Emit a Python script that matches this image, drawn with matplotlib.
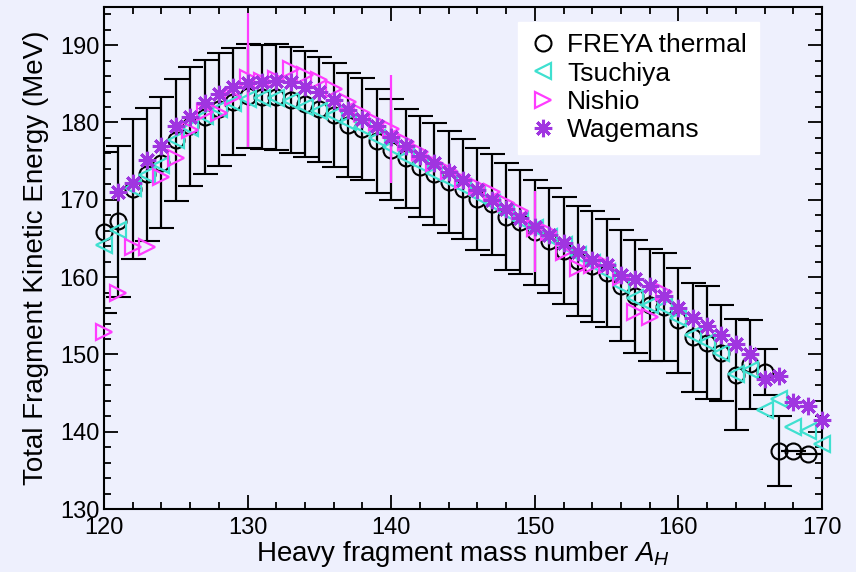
import matplotlib
matplotlib.use("Agg")
import matplotlib.pyplot as plt
from matplotlib.lines import Line2D
import numpy as np

plt.rcParams['font.family'] = ['Liberation Sans', 'DejaVu Sans']
plt.rcParams['mathtext.fontset'] = 'custom'
plt.rcParams['mathtext.rm'] = 'Liberation Sans'
plt.rcParams['mathtext.it'] = 'Liberation Sans:italic'

# FREYA thermal (with error bars)
freya_a = np.arange(120, 170)
freya_e = [165.8, 167.2, 171.4, 173.3, 174.8, 177.7, 179.5, 180.7, 181.7, 182.7,
           183.4, 183.3, 183.3, 182.9, 182.4, 181.7, 181.0, 179.7, 179.2, 177.6,
           176.5, 175.4, 174.3, 173.3, 172.3, 171.4, 170.1, 169.4, 167.8, 167.1,
           165.8, 164.7, 163.4, 162.1, 161.4, 160.5, 158.9, 157.5, 156.4, 156.1,
           154.4, 152.2, 151.5, 150.2, 147.4, 148.7, 147.7, 137.5, 137.5, 137.1]
freya_err = [10.4, 9.8, 9.0, 8.6, 8.5, 7.9, 7.7, 7.4, 7.3, 6.9,
             6.7, 6.7, 6.9, 6.8, 6.8, 6.8, 6.7, 6.7, 6.6, 6.7,
             6.5, 6.4, 6.5, 6.6, 6.6, 6.5, 6.6, 6.5, 6.9, 6.7,
             6.8, 6.8, 6.9, 7.1, 7.2, 7.0, 7.2, 7.3, 7.3, 7.0,
             6.8, 7.1, 7.3, 6.2, 7.2, 5.8, 3.0, 4.5, 0.0, 0.0]

# Tsuchiya
tsu_a = np.arange(120, 171)
tsu_e = [164.2, 166.1, 171.5, 173.2, 174.5, 177.7, 179.3, 180.8, 181.8, 182.5,
         183.0, 183.2, 183.2, 182.8, 182.0, 181.5, 181.0, 180.0, 179.4, 178.0,
         176.8, 175.6, 174.6, 173.5, 172.6, 171.6, 170.6, 169.6, 168.4, 167.4,
         166.3, 165.2, 164.2, 162.8, 161.8, 160.6, 159.0, 157.3, 156.4, 156.2,
         154.7, 152.5, 151.6, 150.2, 147.5, 148.0, 142.8, 144.2, 140.6, 140.1,
         138.4]

# Nishio
nis_a = np.arange(120, 160)
nis_e = [152.9, 157.9, 163.9, 163.9, 173.0, 175.4, 179.0, 181.4, 181.2, 183.3,
         185.8, 185.4, 185.6, 186.9, 186.2, 185.5, 184.3, 182.7, 181.2, 180.1,
         179.1, 177.5, 176.2, 174.8, 173.7, 172.6, 171.8, 171.0, 169.6, 168.5,
         166.4, 165.9, 163.3, 161.2, 161.6, 161.6, 160.0, 155.5, 154.9, 158.1]
nis_err_a = [130, 140, 150]
nis_err_e = [185.5, 179.2, 165.9]
nis_err = [8.7, 7.0, 5.2]

# Wagemans
wag_a = np.arange(121, 171)
wag_e = [171.0, 172.2, 175.2, 177.0, 179.5, 180.7, 182.5, 183.7, 184.6,
         185.1, 185.2, 185.4, 185.2, 184.6, 184.0, 182.9, 181.6, 180.5, 179.5,
         178.1, 176.9, 175.7, 174.8, 173.6, 172.6, 171.3, 170.0, 168.8, 167.7,
         166.5, 165.4, 164.4, 163.3, 162.2, 161.6, 160.3, 159.7, 158.8, 157.5,
         156.0, 154.7, 153.7, 152.5, 151.3, 150.1, 146.8, 147.2, 143.9, 143.3,
         141.5]

bg = '#eef0fd'
cyan = '#3fe0d0'
magenta = '#ff3cff'
purple = '#a035e0'
star = (8, 2, 0)

fig = plt.figure(figsize=(8.56, 5.72), dpi=100, facecolor=bg)
ax = fig.add_axes([0.1215, 0.110, 0.8388, 0.8786], facecolor=bg)

eb = ax.errorbar(freya_a, freya_e, yerr=freya_err, fmt='o', color='black', mfc='none',
                 mec='black', ms=11.5, mew=1.5, elinewidth=1.6, capsize=9, capthick=1.6,
                 zorder=2)
eb.lines[0].set_clip_on(False)
ax.plot(tsu_a, tsu_e, '<', color=cyan, mfc='none', mec=cyan, ms=11.5, mew=1.6,
        zorder=3, clip_on=False)
ax.errorbar(nis_err_a, nis_err_e, yerr=nis_err, fmt='none', ecolor=magenta,
            elinewidth=1.6, capsize=0, zorder=3)
ax.plot(nis_a, nis_e, '>', color=magenta, mfc='none', mec=magenta, ms=11.5, mew=1.6,
        zorder=4, clip_on=False)
ax.plot(wag_a, wag_e, ls='none', marker=star, color=purple, mec=purple,
        ms=12.5, mew=2.2, zorder=5, clip_on=False)

ax.set_xlim(120, 170)
ax.set_ylim(130, 195)
ax.set_xticks(np.arange(120, 171, 10))
ax.set_xticks(np.arange(120, 171, 2), minor=True)
ax.set_yticks(np.arange(130, 191, 10))
ax.set_yticks(np.arange(130, 195, 2), minor=True)
ax.tick_params(which='both', direction='in', top=True, right=True,
               labelsize=17, width=1.3)
ax.tick_params(which='major', length=10)
ax.tick_params(which='minor', length=5)
ax.tick_params(axis='x', pad=6)
for s in ax.spines.values():
    s.set_linewidth(1.5)

ax.set_xlabel(r'Heavy fragment mass number $A_H$', fontsize=20, labelpad=0)
ax.set_ylabel('Total Fragment Kinetic Energy (MeV)', fontsize=20, labelpad=8)

handles = [
    Line2D([], [], ls='none', marker='o', mfc='none', mec='black', ms=11.5, mew=1.5),
    Line2D([], [], ls='none', marker='<', mfc='none', mec=cyan, ms=11.5, mew=1.6),
    Line2D([], [], ls='none', marker='>', mfc='none', mec=magenta, ms=11.5, mew=1.6),
    Line2D([], [], ls='none', marker=star, color=purple, mec=purple, ms=12.5, mew=2.2),
]
labels = ['FREYA thermal', 'Tsuchiya', 'Nishio', 'Wagemans']
leg = ax.legend(handles, labels, loc='upper left', bbox_to_anchor=(0.577, 0.97),
                borderaxespad=0, fontsize=19, frameon=True, fancybox=False,
                handlelength=1.0, handletextpad=0.4, labelspacing=0.16,
                borderpad=0.45)
leg.get_frame().set_facecolor('white')
leg.get_frame().set_edgecolor('white')
leg.get_frame().set_alpha(1)

fig.savefig('out.png', dpi=100, facecolor=bg)
